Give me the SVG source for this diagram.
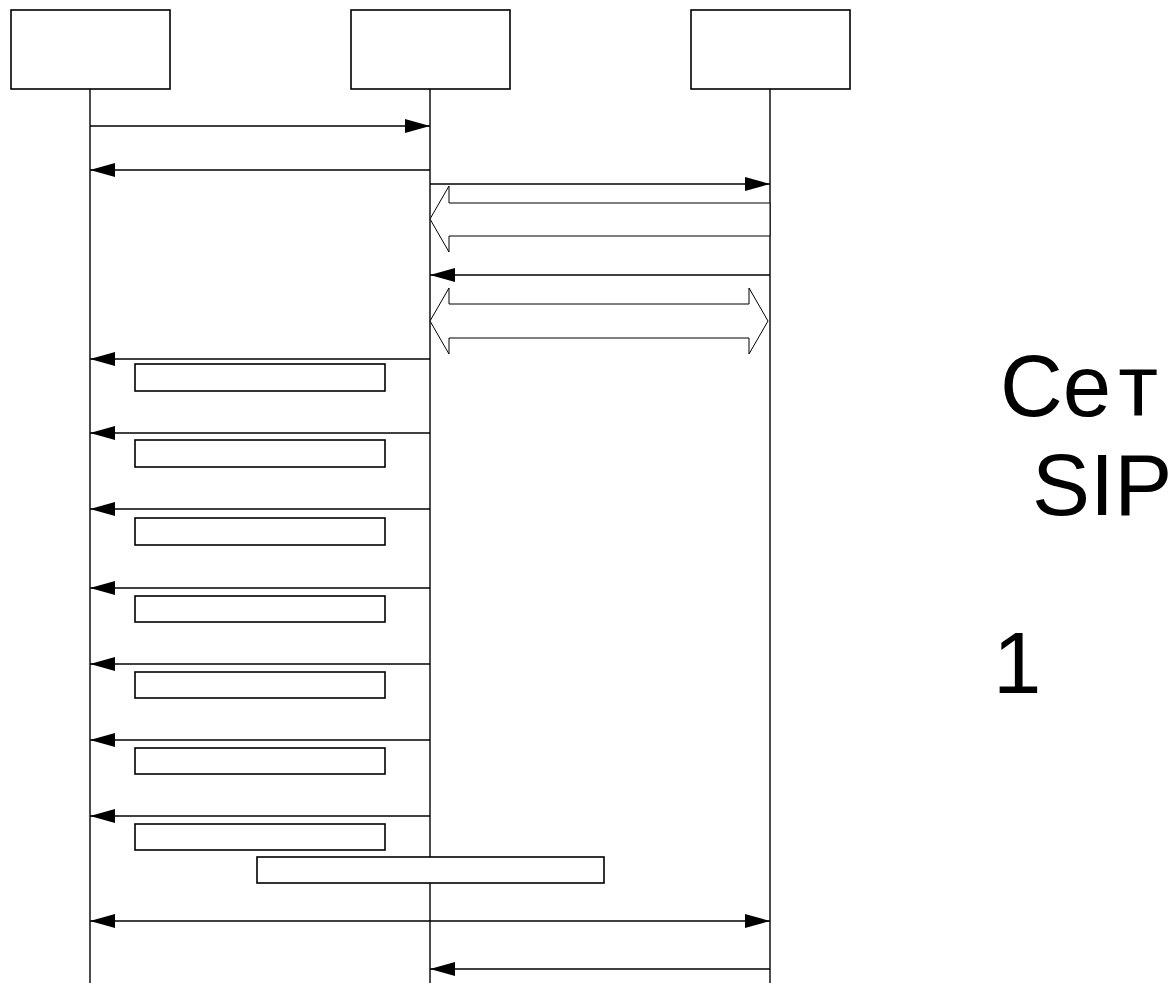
<svg xmlns="http://www.w3.org/2000/svg" width="1168" height="983" viewBox="0 0 1168 983">
<style>
.box{fill:#fff;stroke:#000;stroke-width:1.6}
.life{stroke:#000;stroke-width:1.4;fill:none}
.msg{stroke:#000;stroke-width:1.5;fill:none}
.blk{fill:#fff;stroke:#000;stroke-width:1}
.lbl{fill:#fff;stroke:#000;stroke-width:1.6}
.txt{font-family:"Liberation Sans",Arial,sans-serif;font-size:87px;fill:#000}
</style>
<defs>
<marker id="ah" markerUnits="userSpaceOnUse" markerWidth="26" markerHeight="16" refX="25" refY="7" orient="auto-start-reverse" viewBox="0 0 26 14">
<path d="M0,0 L25,7 L0,14 z" fill="#000"/>
</marker>
</defs>
<rect width="1168" height="983" fill="#fff"/>
<g id="lifelines">
<line class="life" x1="90" y1="89" x2="90" y2="983"/>
<line class="life" x1="430" y1="89" x2="430" y2="983"/>
<line class="life" x1="770" y1="89" x2="770" y2="983"/>
</g>
<g id="node1"><rect class="box" x="11" y="10" width="159" height="79"/></g>
<g id="node2"><rect class="box" x="351" y="10" width="159" height="79"/></g>
<g id="node3"><rect class="box" x="691" y="10" width="159" height="79"/></g>
<g id="connectors">
<line class="msg" x1="90" y1="126" x2="430" y2="126" marker-end="url(#ah)"/>
<line class="msg" x1="430" y1="170" x2="90" y2="170" marker-end="url(#ah)"/>
<line class="msg" x1="430" y1="184" x2="770" y2="184" marker-end="url(#ah)"/>
<polygon class="blk" points="770,203 449,203 449,186 430,219 449,252 449,236 770,236"/>
<line class="msg" x1="770" y1="275" x2="430" y2="275" marker-end="url(#ah)"/>
<polygon class="blk" points="449,304 749,304 749,288 768,321 749,354 749,338 449,338 449,354 430,321 449,288"/>
<line class="msg" x1="430" y1="359" x2="90" y2="359" marker-end="url(#ah)"/>
<line class="msg" x1="430" y1="433" x2="90" y2="433" marker-end="url(#ah)"/>
<line class="msg" x1="430" y1="509" x2="90" y2="509" marker-end="url(#ah)"/>
<line class="msg" x1="430" y1="588" x2="90" y2="588" marker-end="url(#ah)"/>
<line class="msg" x1="430" y1="664" x2="90" y2="664" marker-end="url(#ah)"/>
<line class="msg" x1="430" y1="740" x2="90" y2="740" marker-end="url(#ah)"/>
<line class="msg" x1="430" y1="816" x2="90" y2="816" marker-end="url(#ah)"/>
<line class="msg" x1="90" y1="921" x2="770" y2="921" marker-start="url(#ah)" marker-end="url(#ah)"/>
<line class="msg" x1="770" y1="969" x2="430" y2="969" marker-end="url(#ah)"/>
</g>
<g id="labels">
<rect class="lbl" x="135" y="364" width="250" height="27"/>
<rect class="lbl" x="135" y="440" width="250" height="27"/>
<rect class="lbl" x="135" y="518" width="250" height="27"/>
<rect class="lbl" x="135" y="596" width="250" height="26"/>
<rect class="lbl" x="135" y="672" width="250" height="26"/>
<rect class="lbl" x="135" y="748" width="250" height="26"/>
<rect class="lbl" x="135" y="824" width="250" height="26"/>
<rect class="lbl" x="257" y="857" width="347" height="26"/>
</g>
<g id="side-text">
<text class="txt" x="1000" y="416">Се<tspan dx="10">т</tspan></text>
<text class="txt" x="1032" y="515">SIP</text>
<text class="txt" x="993" y="693">1</text>
</g>
</svg>
